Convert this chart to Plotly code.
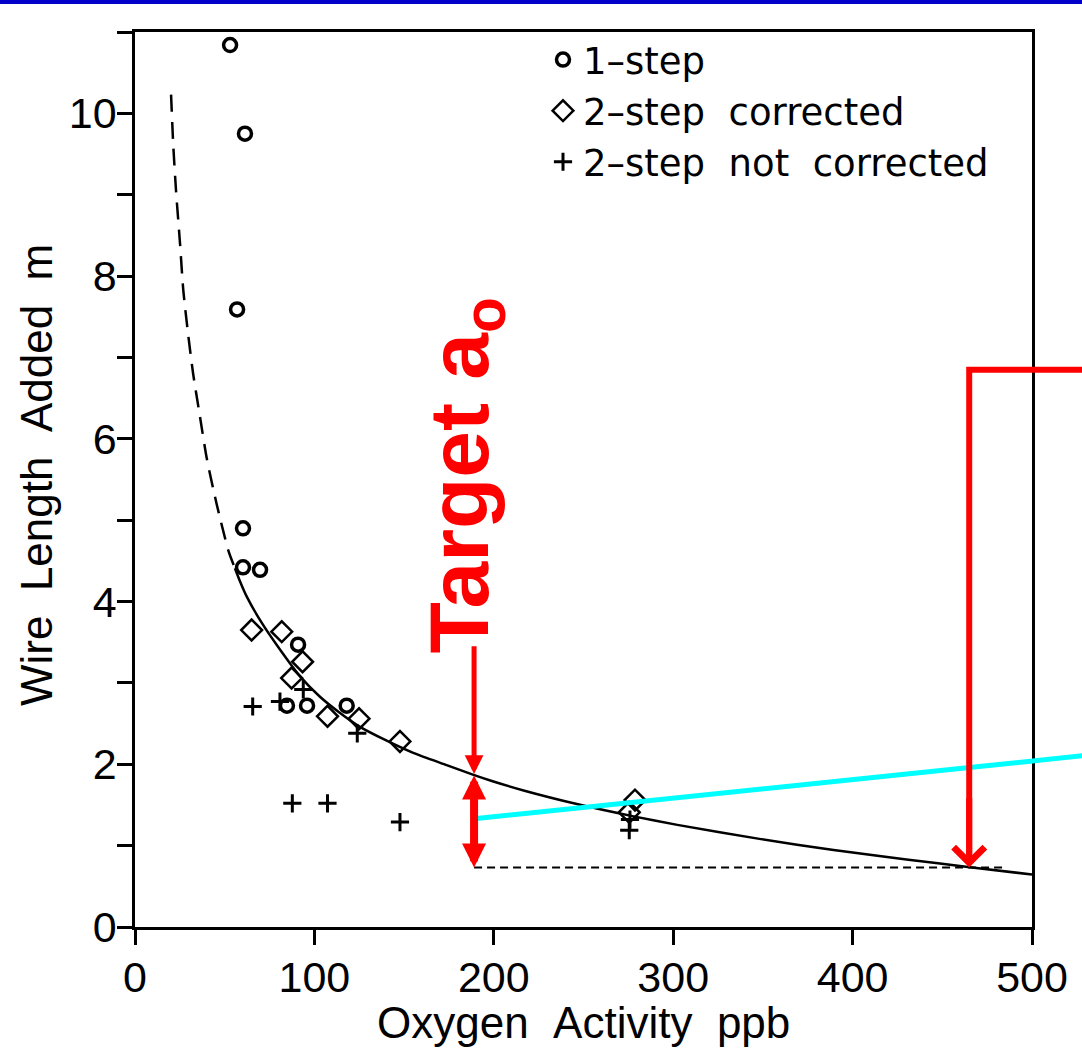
import plotly.graph_objects as go

# ---------------- data ----------------
# fitted curve (dashed extrapolation, then solid)
curve_dash_x = [20.1, 21.3, 22.9, 25.1, 26.9, 29.7, 32.4, 35.8, 40.0, 45.5, 52.0, 55.7]
curve_dash_y = [10.23, 9.62, 9.04, 8.40, 7.83, 7.27, 6.80, 6.33, 5.76, 5.20, 4.63, 4.41]
curve_x = [55.7, 58.5, 62.3, 70.6, 80.8, 92.0, 103.1, 114.3, 125.4, 140.3, 155.1, 173.7,
           188.7, 198.9, 217.1, 247.5, 277.9, 302.3, 348.9, 389.4, 430.0, 465.4, 500.0]
curve_y = [4.41, 4.25, 4.06, 3.74, 3.41, 3.08, 2.83, 2.63, 2.46, 2.29, 2.14, 1.99,
           1.87, 1.795, 1.675, 1.505, 1.36, 1.255, 1.08, 0.945, 0.83, 0.735, 0.645]

one_step_x = [53.0, 61.3, 56.9, 60.2, 60.2, 69.7, 90.9, 84.7, 95.9, 118.0]
one_step_y = [10.84, 9.75, 7.59, 4.90, 4.42, 4.39, 3.47, 2.72, 2.72, 2.72]

two_corr_x = [65.0, 81.8, 93.4, 87.3, 107.3, 124.9, 147.7, 278.7, 275.5]
two_corr_y = [3.65, 3.63, 3.26, 3.06, 2.59, 2.56, 2.28, 1.56, 1.41]

two_notcorr_x = [65.6, 80.8, 93.8, 123.9, 87.7, 107.3, 147.7, 275.9, 275.5]
two_notcorr_y = [2.71, 2.77, 2.92, 2.38, 1.52, 1.52, 1.29, 1.32, 1.19]

target_x = [189, 484]
target_y = [0.73, 0.73]

cyan_x = [189, 535]
cyan_y = [1.33, 2.12]

bracket_x = [535, 465, 465]
bracket_y = [6.85, 6.85, 0.85]

arrow_x = 189
arrow_top = 3.47
arrow_curve = 1.88
arrow_bottom = 0.73
right_arrow_x = 465

x_ticks = [0, 100, 200, 300, 400, 500]
x_ticktext = ["0", "100", "200", "300", "400", "500"]
y_ticks = [0, 2, 4, 6, 8, 10]
y_ticktext = ["0", "2", "4", "6", "8", "10"]
y_minor_ticks = [1, 3, 5, 7, 9, 11]

FONT = "Liberation Sans, Arial, Helvetica, sans-serif"
LEG_FONT = "DejaVu Sans, Liberation Sans, sans-serif"
NB = " \u00a0"

# ---------------- geometry ----------------
W, H = 1082, 1062
ML, MT, MB = 135, 32, 135
plot_right = 1032
PW = W - ML
PH = H - MT - MB
dom = (plot_right - ML) / PW
x_max = 500
x2_max = x_max / dom

fig = go.Figure()

fig.add_trace(go.Scatter(x=curve_dash_x, y=curve_dash_y, mode="lines",
                         line=dict(color="black", width=2.5, dash="17px,10px", shape="spline",
                                   smoothing=0.6),
                         showlegend=False, hoverinfo="skip"))
fig.add_trace(go.Scatter(x=curve_x, y=curve_y, mode="lines",
                         line=dict(color="black", width=2.5, shape="spline", smoothing=0.6),
                         showlegend=False, hoverinfo="skip"))
fig.add_trace(go.Scatter(x=target_x, y=target_y, mode="lines",
                         line=dict(color="black", width=2, dash="8px,5px"),
                         showlegend=False, hoverinfo="skip"))

fig.add_trace(go.Scatter(x=one_step_x, y=one_step_y, mode="markers",
                         name="1–step",
                         marker=dict(symbol="circle-open", size=13, color="black",
                                     line=dict(width=3.5, color="black"))))
fig.add_trace(go.Scatter(x=two_corr_x, y=two_corr_y, mode="markers",
                         name="2–step" + NB + "corrected",
                         marker=dict(symbol="diamond-open", size=16, color="black",
                                     line=dict(width=2.5, color="black"))))
fig.add_trace(go.Scatter(x=two_notcorr_x, y=two_notcorr_y, mode="markers",
                         name="2–step" + NB + "not" + NB + "corrected",
                         marker=dict(symbol="cross-thin", size=13, color="black",
                                     line=dict(width=3, color="black"))))

# lines that run past the right frame: drawn on a wider (hidden) x axis with the same scale
fig.add_trace(go.Scatter(x=cyan_x, y=cyan_y, mode="lines", xaxis="x2", yaxis="y",
                         line=dict(color="#00FFFF", width=5),
                         showlegend=False, hoverinfo="skip"))
fig.add_trace(go.Scatter(x=bracket_x, y=bracket_y, mode="lines", xaxis="x2", yaxis="y",
                         line=dict(color="#FF0000", width=6),
                         showlegend=False, hoverinfo="skip"))

# red arrows
fig.add_annotation(x=arrow_x, y=arrow_curve, ax=arrow_x, ay=arrow_top,
                   xref="x", yref="y", axref="x", ayref="y", text="",
                   showarrow=True, arrowhead=2, arrowsize=0.75, arrowwidth=5,
                   arrowcolor="#FF0000", standoff=0)
fig.add_annotation(x=arrow_x, y=arrow_bottom, ax=arrow_x, ay=arrow_curve,
                   xref="x", yref="y", axref="x", ayref="y", text="",
                   showarrow=True, arrowhead=2, startarrowhead=2,
                   arrowside="end+start", arrowsize=0.6, startarrowsize=0.6,
                   arrowwidth=8, arrowcolor="#FF0000", standoff=0, startstandoff=0)
fig.add_annotation(x=right_arrow_x, y=arrow_bottom, ax=right_arrow_x, ay=1.6,
                   xref="x", yref="y", axref="x", ayref="y", text="",
                   showarrow=True, arrowhead=4, arrowsize=1.0, arrowwidth=6,
                   arrowcolor="#FF0000", standoff=0)

# rotated label
fig.add_annotation(x=184, y=5.55, xref="x", yref="y",
                   text="<b>Target a<sub>o</sub></b>", textangle=-90,
                   showarrow=False, xanchor="center", yanchor="middle",
                   font=dict(family=FONT, size=84, color="#FF0000"))

# axis titles
fig.add_annotation(x=(583 - ML) / PW, y=-(1022 - (MT + PH)) / PH, xref="paper", yref="paper",
                   text="Oxygen" + NB + "Activity" + NB + "ppb", showarrow=False,
                   xanchor="center", yanchor="middle",
                   font=dict(family=FONT, size=44, color="black"))
fig.add_annotation(x=(36 - ML) / PW, y=(MT + PH - 475) / PH, xref="paper", yref="paper",
                   text="Wire" + NB + "Length" + NB + "Added" + NB + "m", showarrow=False,
                   textangle=-90, xanchor="center", yanchor="middle",
                   font=dict(family=FONT, size=44, color="black"))

# blue top bar
fig.add_shape(type="rect", xref="paper", yref="paper",
              x0=-ML / PW, x1=1.0,
              y0=1 + (MT - 4) / PH, y1=1 + MT / PH,
              line=dict(width=0), fillcolor="#0000C8", layer="above")

fig.update_layout(
    width=W, height=H, template="none",
    margin=dict(l=ML, r=0, t=MT, b=MB, pad=0, autoexpand=False),
    paper_bgcolor="white", plot_bgcolor="rgba(0,0,0,0)",
    font=dict(family=FONT, color="black"),
    xaxis=dict(domain=[0, dom], range=[0, x_max], tickvals=x_ticks, ticktext=x_ticktext,
               ticks="outside", ticklen=15, tickwidth=2.5, tickcolor="black",
               showline=True, linewidth=2.5, linecolor="black", mirror=True,
               showgrid=False, zeroline=False, automargin=False,
               ticklabelstandoff=-4,
               tickfont=dict(size=43, family=FONT)),
    xaxis2=dict(domain=[0, 1], range=[0, x2_max], anchor="y",
                visible=False, showgrid=False, zeroline=False, automargin=False),
    yaxis=dict(domain=[0, 1], range=[0, 11], tickvals=y_ticks, ticktext=y_ticktext,
               anchor="x",
               ticks="outside", ticklen=15, tickwidth=2.5, tickcolor="black",
               minor=dict(tickvals=y_minor_ticks, ticks="outside", ticklen=15,
                          tickwidth=2.5, tickcolor="black", showgrid=False),
               showline=True, linewidth=2.5, linecolor="black", mirror=True,
               showgrid=False, zeroline=False, automargin=False,
               ticklabelstandoff=-8,
               tickfont=dict(size=43, family=FONT)),
    legend=dict(x=(543 - ML) / PW, y=1 + (MT - 29) / PH,
                xanchor="left", yanchor="top", bgcolor="rgba(0,0,0,0)",
                borderwidth=0, font=dict(size=37, family=LEG_FONT, color="black"),
                itemwidth=30, tracegroupgap=0),
    showlegend=True,
)

fig.write_html("out.html", config={"displayModeBar": False},
               post_script="document.body.style.margin='0';")
